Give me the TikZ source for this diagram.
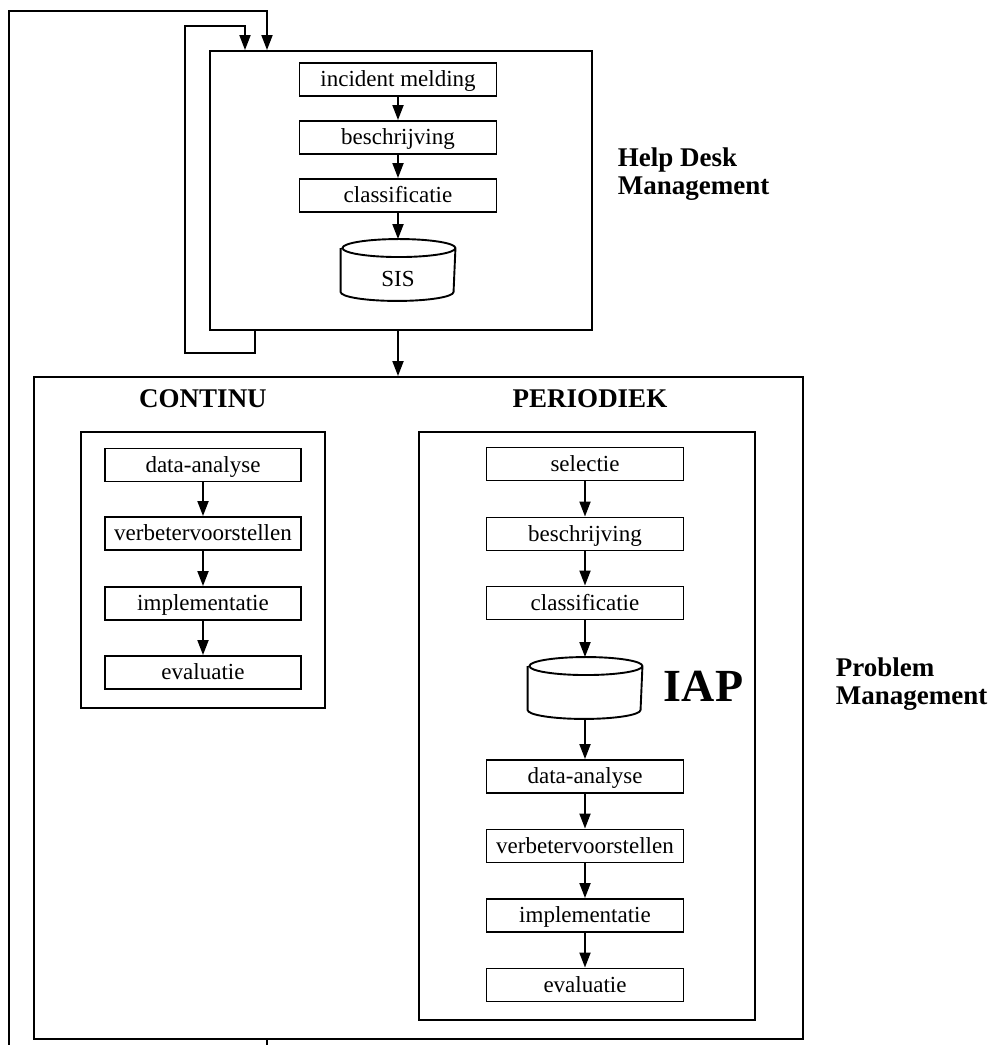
\documentclass[tikz,border=0pt]{standalone}
\usepackage{fontspec}
\setmainfont{Liberation Serif}
\usetikzlibrary{arrows.meta,calc}
\newcommand\drawdb[1]{%
  \draw ($(#1.north west)+(0,-9)$) -- ($(#1.south west)+(0,9)$)
    arc[start angle=180,end angle=360,x radius=56.5pt,y radius=9pt]
    -- ($(#1.north east)+(0,-9)$)
    arc[start angle=0,end angle=360,x radius=56.5pt,y radius=9pt];}
\begin{document}
\begin{tikzpicture}[x=1pt,y=1pt,line width=1.9pt,
  box/.style={draw, rectangle, line width=1.9pt, minimum width=197pt, minimum height=33pt, inner sep=0pt, text height=20pt, text depth=5pt, font=\fontsize{23}{26}\selectfont},
  frame/.style={draw, rectangle, line width=1.9pt, inner sep=0pt},
  arr/.style={-{Triangle[length=15pt,width=11pt]}},
  head/.style={font=\fontsize{27}{28}\selectfont\bfseries, inner sep=0pt},
  db/.style={minimum width=113pt, minimum height=60pt, inner sep=0pt},
  dbtext/.style={font=\fontsize{23}{26}\selectfont, inner sep=0pt}
]
\useasboundingbox (0,0) rectangle (996,1045);

% Help Desk block
\node[frame, minimum width=382pt, minimum height=279pt] (hd) at (401,854.5) {};
\node[box] (h1) at (398,965.5) {incident melding};
\node[box] (h2) at (398,907.5) {beschrijving};
\node[box] (h3) at (398,849.5) {classificatie};
\node[db] (sis) at (398,775) {};
\drawdb{sis}
\node[dbtext] (sist) at ($(sis)+(0,-9)$) {SIS};
\draw[arr] (h1) -- (h2);
\draw[arr] (h2) -- (h3);
\draw[arr] (h3) -- (sis);

\node[head, anchor=base west] (hdl1) at (617,878) {Help Desk};
\node[head, anchor=base west] (hdl2) at (617,850) {Management};

% Problem Management block
\node[frame, minimum width=769pt, minimum height=662pt] (pm) at (418.5,337) {};
\node[head, anchor=base] (cont) at (203,637) {CONTINU};
\node[head, anchor=base] (peri) at (590,637) {PERIODIEK};
\node[head, anchor=base west] (pml1) at (835,368) {Problem};
\node[head, anchor=base west] (pml2) at (835,340) {Management};

\draw[arr] (sis |- hd.south) -- (sis |- pm.north);

% CONTINU
\node[frame, minimum width=244pt, minimum height=276pt] (cbox) at (203,475) {};
\node[box, minimum width=196pt] (c1) at (203,580) {data-analyse};
\node[box, minimum width=196pt] (c2) at (203,511.5) {verbetervoorstellen};
\node[box, minimum width=196pt] (c3) at (203,441.5) {implementatie};
\node[box, minimum width=196pt] (c4) at (203,372.5) {evaluatie};
\draw[arr] (c1) -- (c2);
\draw[arr] (c2) -- (c3);
\draw[arr] (c3) -- (c4);

% PERIODIEK
\node[frame, minimum width=336pt, minimum height=588pt] (pbox) at (587,319) {};
\node[box] (p1) at (585,581) {selectie};
\node[box] (p2) at (585,511) {beschrijving};
\node[box] (p3) at (585,442) {classificatie};
\node[db] (iap) at (585,357) {};
\drawdb{iap}
\node[font=\fontsize{46}{48}\selectfont\bfseries, inner sep=0pt, anchor=base west] (iapl) at (663,343) {IAP};
\node[box] (p4) at (585,268.5) {data-analyse};
\node[box] (p5) at (585,199) {verbetervoorstellen};
\node[box] (p6) at (585,129.5) {implementatie};
\node[box] (p7) at (585,60) {evaluatie};
\draw[arr] (p1) -- (p2);
\draw[arr] (p2) -- (p3);
\draw[arr] (p3) -- (iap);
\draw[arr] (iap) -- (p4);
\draw[arr] (p4) -- (p5);
\draw[arr] (p5) -- (p6);
\draw[arr] (p6) -- (p7);

% feedback loops
\coordinate (oA) at (267,-10);
\coordinate (oB) at (9,-10);
\coordinate (oC) at (9,1034);
\coordinate (oD) at (267,1034);
\draw[arr] (oA |- pm.south) -- (oA) -- (oB) -- (oC) -- (oD) -- (oD |- hd.north);

\coordinate (iA) at (255,692);
\coordinate (iB) at (185,692);
\coordinate (iC) at (185,1019);
\coordinate (iD) at (245,1019);
\draw[arr] (iA |- hd.south) -- (iA) -- (iB) -- (iC) -- (iD) -- (iD |- hd.north);
\end{tikzpicture}
\end{document}
